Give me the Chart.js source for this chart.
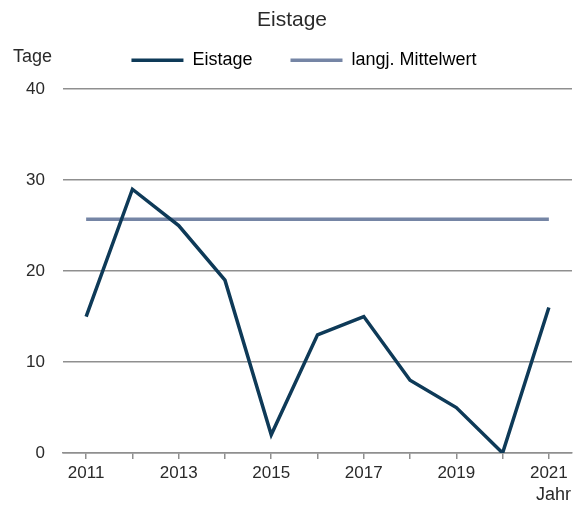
<!DOCTYPE html>
<html>
<head>
<meta charset="utf-8">
<script src="https://cdn.jsdelivr.net/npm/chart.js@4"></script>
<style>
  html, body { margin: 0; padding: 0; background: #fff; }
  #wrap { width: 581px; height: 511px; }
</style>
</head>
<body>
<div id="wrap"><canvas id="eisChart" width="581" height="511"></canvas></div>
<script>
// Eistage pro Jahr
const years = ['2011', '2012', '2013', '2014', '2015', '2016', '2017', '2018', '2019', '2020', '2021'];
const eistage = [15, 29, 25, 19, 2, 13, 15, 8, 5, 0, 16];
const mittelwert = [25.7, 25.7, 25.7, 25.7, 25.7, 25.7, 25.7, 25.7, 25.7, 25.7, 25.7];
const yTicks = [0, 10, 20, 30, 40];

const FONT = "'Liberation Sans', Arial, sans-serif";
const TEXT = '#2a2a2a';
const gridGrey = '#8f8f8f';

// Legende: weite Abstaende zwischen den Eintraegen, aber kompakte Hoehe
const legendPlacement = {
  id: 'legendPlacement',
  beforeInit(chart) {
    const fit = chart.legend.fit;
    chart.legend.fit = function () {
      fit.call(this);
      this.height -= 10;
    };
  },
  afterLayout(chart) {
    const lg = chart.legend;
    lg.top -= 20;
    lg.bottom -= 20;
    lg.left += 18;
    lg.right += 18;
    const t = chart.titleBlock;
    t.left += 6;
    t.right += 6;
  }
};

// Achsenbeschriftungen "Tage" und "Jahr"
const axisTitles = {
  id: 'axisTitles',
  afterDraw(chart) {
    const ctx = chart.ctx;
    const area = chart.chartArea;
    ctx.save();
    ctx.fillStyle = TEXT;
    ctx.font = '18px ' + FONT;
    ctx.textBaseline = 'middle';
    ctx.textAlign = 'left';
    ctx.fillText('Tage', 13, 57);
    ctx.textAlign = 'right';
    ctx.fillText('Jahr', area.right - 1, 495);
    ctx.restore();
  }
};

new Chart(document.getElementById('eisChart'), {
  type: 'line',
  data: {
    labels: years,
    datasets: [
      {
        label: 'Eistage',
        data: eistage,
        borderColor: '#0e3a58',
        backgroundColor: '#0e3a58',
        borderWidth: 3.5,
        pointRadius: 0,
        tension: 0
      },
      {
        label: 'langj. Mittelwert',
        data: mittelwert,
        borderColor: '#7585a5',
        backgroundColor: '#7585a5',
        borderWidth: 3.5,
        pointRadius: 0,
        tension: 0
      }
    ]
  },
  options: {
    responsive: false,
    animation: false,
    layout: { padding: { left: 0, right: 9, top: 6, bottom: 20 } },
    plugins: {
      title: {
        display: true,
        text: 'Eistage',
        color: TEXT,
        font: { family: FONT, size: 21, weight: 'normal' },
        padding: { top: 2, bottom: 0 }
      },
      legend: {
        position: 'top',
        labels: {
          color: TEXT,
          font: { family: FONT, size: 18 },
          boxWidth: 52,
          boxHeight: 0,
          padding: 38,
          generateLabels(chart) {
            return chart.data.datasets.map((ds, i) => ({
              text: ds.label,
              strokeStyle: ds.borderColor,
              fillStyle: ds.borderColor,
              lineWidth: 3.5,
              hidden: false,
              datasetIndex: i
            }));
          }
        }
      },
      tooltip: { enabled: false }
    },
    scales: {
      x: {
        offset: true,
        afterFit(scale) { scale.height = 38; },
        grid: {
          offset: false,
          drawOnChartArea: false,
          color: gridGrey,
          lineWidth: 1.5,
          tickLength: 6
        },
        border: { color: gridGrey, width: 1.5 },
        ticks: {
          autoSkip: false,
          maxRotation: 0,
          color: TEXT,
          font: { family: FONT, size: 17 },
          padding: 4,
          callback: (v, i) => (i % 2 === 0 ? years[i] : '')
        }
      },
      y: {
        min: 0,
        max: 40,
        afterFit(scale) { scale.width = 63; },
        afterBuildTicks(scale) {
          scale.ticks = yTicks.map(v => ({ value: v }));
        },
        grid: { color: gridGrey, lineWidth: 1.5, drawTicks: false },
        border: { display: false },
        ticks: {
          color: TEXT,
          font: { family: FONT, size: 17 },
          padding: 18
        }
      }
    }
  },
  plugins: [legendPlacement, axisTitles]
});
</script>
</body>
</html>
